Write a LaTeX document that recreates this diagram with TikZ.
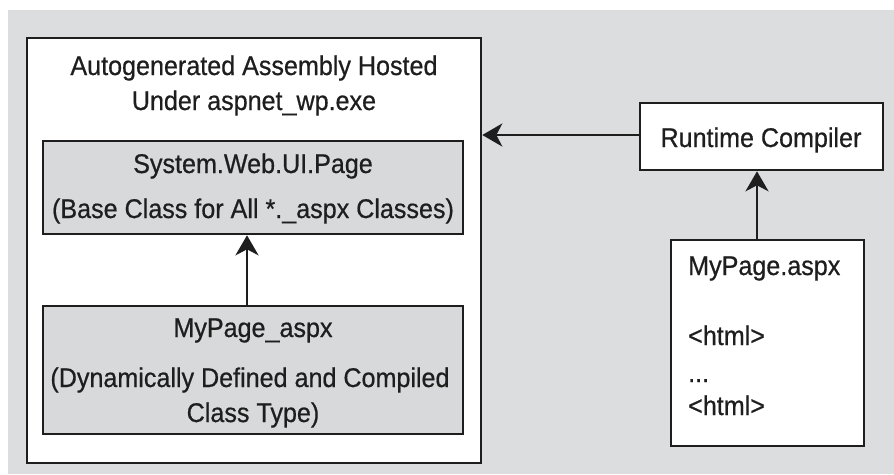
\documentclass[tikz,border=0pt]{standalone}
\usepackage{fontspec}
\setmainfont[FakeStretch=0.93,FakeBold=0.6]{Liberation Sans}
\usetikzlibrary{arrows.meta}
\definecolor{bggray}{HTML}{DCDDDF}
\definecolor{boxgray}{HTML}{D8D9DB}
\definecolor{ink}{HTML}{1E1E1E}
\tikzset{
  box/.style={draw=ink, line width=2.6pt, rectangle, inner sep=0pt},
  txt/.style={anchor=base, inner sep=0pt, text=ink, font=\fontsize{27}{30}\selectfont},
  ltxt/.style={anchor=base west, inner sep=0pt, text=ink, font=\fontsize{27}{30}\selectfont},
  arr/.style={draw=ink, line width=2.8pt, -{Stealth[length=20pt,width=23pt,inset=6pt]}}
}
\begin{document}
\begin{tikzpicture}[x=1pt,y=-1pt]
\useasboundingbox (0,0) rectangle (894,474);
\fill[white] (0,0) rectangle (894,474);
\fill[bggray] (8,10) rectangle (894,474);
% boxes
\node[box, fill=white, minimum width=454pt, minimum height=425pt] (outer) at (254,250.5) {};
\node[box, fill=boxgray, minimum width=420pt, minimum height=93pt] (sys) at (253,187.5) {};
\node[box, fill=boxgray, minimum width=420pt, minimum height=128pt] (my) at (253,370) {};
\node[box, fill=white, minimum width=243pt, minimum height=67pt] (rc) at (761.5,136.5) {};
\node[box, fill=white, minimum width=193pt, minimum height=206pt] (mpa) at (767.5,343) {};
% texts
\node[txt] (t1) at (254,75) {Autogenerated Assembly Hosted};
\node[txt] (t2) at (254,110) {Under aspnet\_wp.exe};
\node[txt] (t3) at (253,173) {System.Web.UI.Page};
\node[txt] (t4) at (253,218) {(Base Class for All *.\_aspx Classes)};
\node[txt] (t5) at (253,337) {MyPage\_aspx};
\node[txt] (t6) at (250,387) {(Dynamically Defined and Compiled};
\node[txt] (t7) at (253,422) {Class Type)};
\node[txt] (t8) at (761,147) {Runtime Compiler};
\node[ltxt] (t9) at (688,275) {MyPage.aspx};
\node[ltxt] (t10) at (688,345) {<html>};
\node[ltxt] (t11) at (688,382) {...};
\node[ltxt] (t12) at (688,415) {<html>};
% arrows
\draw[arr] ([xshift=-6pt]my.north) -- ([xshift=-6pt]sys.south);
\draw[arr] ([yshift=1.5pt]rc.west) -- ([yshift=1.5pt]rc.west -| outer.east);
\draw[arr] ([xshift=-10.5pt]mpa.north) -- ([xshift=-10.5pt]mpa.north |- rc.south);
\end{tikzpicture}
\end{document}
